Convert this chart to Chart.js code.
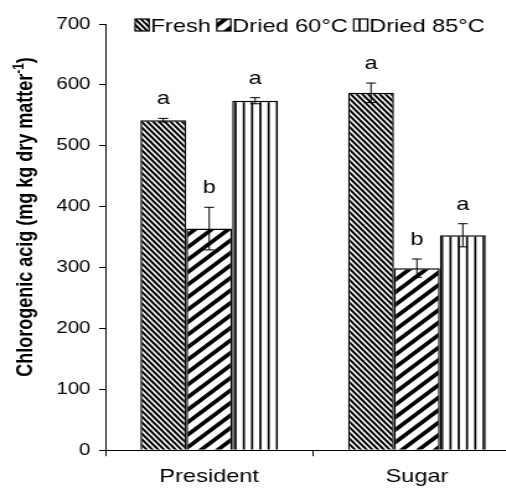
<!DOCTYPE html>
<html><head><meta charset="utf-8">
<script src="https://cdn.jsdelivr.net/npm/chart.js@4.4.1/dist/chart.umd.min.js"></script>
<style>
html,body{margin:0;padding:0;overflow:hidden;background:#fff;width:506px;height:497px;}
#wrap{width:424px;height:497px;transform:scaleX(1.24);transform-origin:0 0;}
canvas{display:block;background:#fff;}
</style></head><body>
<div id="wrap"><canvas id="c" width="424" height="497"></canvas></div>
<script>
const categories = ['President', 'Sugar'];
const seriesNames = ['Fresh', 'Dried 60°C', 'Dried 85°C'];
const freshValues = [542, 587];
const dried60Values = [364, 299];
const dried85Values = [574, 353];
const freshErrors = [3, 16];
const dried60Errors = [35, 15];
const dried85Errors = [5, 19];
const freshLetters = ['a', 'a'];
const dried60Letters = ['b', 'b'];
const dried85Letters = ['a', 'a'];
const yTickValues = [0, 100, 200, 300, 400, 500, 600, 700];
const yTitleMain = 'Chlorogenic acig (mg kg dry matter';
const yTitleSup = '-1';
const yTitleEnd = ')';

const FONT = "'Liberation Sans', Arial, Helvetica, sans-serif";

function diagPattern(W, H, n, dir, duty) {
  const c = document.createElement('canvas'); c.width = W; c.height = H;
  const g = c.getContext('2d');
  g.fillStyle = '#fff'; g.fillRect(0, 0, W, H);
  const px = W / n, py = H / n;
  const perp = 1 / Math.sqrt(1 / (px * px) + 1 / (py * py));
  g.strokeStyle = '#000'; g.lineWidth = duty * perp;
  g.beginPath();
  const s = dir === 'back' ? 1 : -1;
  for (let k = -3 * n; k <= 3 * n; k++) {
    const y0 = -H, y1 = 2 * H;
    g.moveTo((k + s * y0 / py) * px, y0);
    g.lineTo((k + s * y1 / py) * px, y1);
  }
  g.stroke();
  return g.createPattern(c, 'repeat');
}
function vertPattern(W, n, lw) {
  const c = document.createElement('canvas'); c.width = W; c.height = 4;
  const g = c.getContext('2d');
  g.fillStyle = '#fff'; g.fillRect(0, 0, W, 4);
  g.fillStyle = '#000';
  for (let i = 0; i < n; i++) {
    const x = (i + 0.5) * W / n;
    g.fillRect(x - lw / 2, 0, lw, 4);
  }
  return g.createPattern(c, 'repeat');
}

const patterns = [
  diagPattern(14, 17, 3, 'back', 0.55),
  diagPattern(27, 25, 2, 'fwd', 0.4),
  vertPattern(20, 3, 1.7)
];
const valueSets = [freshValues, dried60Values, dried85Values];
const errorSets = [freshErrors, dried60Errors, dried85Errors];
const letterSets = [freshLetters, dried60Letters, dried85Letters];

const errorPlugin = {
  id: 'errorsLetters',
  afterDatasetsDraw(chart) {
    const ctx = chart.ctx, y = chart.scales.y;
    ctx.save();
    chart.data.datasets.forEach((ds, di) => {
      const meta = chart.getDatasetMeta(di);
      meta.data.forEach((bar, i) => {
        const v = valueSets[di][i], e = errorSets[di][i];
        const yTop = y.getPixelForValue(v + e), yBot = y.getPixelForValue(v - e);
        const x = bar.x;
        ctx.strokeStyle = '#000'; ctx.lineWidth = 1;
        ctx.beginPath();
        ctx.moveTo(x, yTop); ctx.lineTo(x, yBot);
        ctx.moveTo(x - 4, yTop); ctx.lineTo(x + 4, yTop);
        ctx.moveTo(x - 4, yBot); ctx.lineTo(x + 4, yBot);
        ctx.stroke();
        ctx.fillStyle = '#000';
        ctx.font = '19px ' + FONT;
        ctx.textAlign = 'center'; ctx.textBaseline = 'alphabetic';
        ctx.fillText(letterSets[di][i], x, yTop - 14);
      });
    });
    ctx.restore();
  }
};

const legendPlugin = {
  id: 'customLegend',
  afterDraw(chart) {
    const ctx = chart.ctx;
    ctx.save();
    ctx.font = '19px ' + FONT;
    let x = chart.chartArea.left + 24;
    const boxW = 11.3, boxH = 12, top = 19, baseline = 31.5;
    chart.data.datasets.forEach((ds) => {
      ctx.fillStyle = ds.backgroundColor;
      ctx.fillRect(x, top, boxW, boxH);
      ctx.strokeStyle = '#000'; ctx.lineWidth = 1.2;
      ctx.strokeRect(x, top, boxW, boxH);
      x += boxW + 1.2;
      ctx.fillStyle = '#000';
      ctx.textAlign = 'left'; ctx.textBaseline = 'alphabetic';
      ctx.fillText(ds.label, x, baseline);
      x += ctx.measureText(ds.label).width + 4.8;
    });
    ctx.restore();
  }
};

const yTitlePlugin = {
  id: 'yTitle',
  afterDraw(chart) {
    const ctx = chart.ctx;
    ctx.save();
    const mainFont = 'bold 18px ' + FONT, supFont = 'bold 12px ' + FONT;
    ctx.font = mainFont; const w1 = ctx.measureText(yTitleMain).width;
    const w3 = ctx.measureText(yTitleEnd).width;
    ctx.font = supFont; const w2 = ctx.measureText(yTitleSup).width;
    const total = w1 + w2 + w3;
    ctx.translate(25.6, 217);
    ctx.rotate(-Math.PI / 2);
    ctx.fillStyle = '#000'; ctx.textAlign = 'left'; ctx.textBaseline = 'alphabetic';
    let x = -total / 2;
    ctx.font = mainFont; ctx.fillText(yTitleMain, x, 0); x += w1;
    ctx.font = supFont; ctx.fillText(yTitleSup, x, -7); x += w2;
    ctx.font = mainFont; ctx.fillText(yTitleEnd, x, 0);
    ctx.restore();
  }
};

new Chart(document.getElementById('c'), {
  type: 'bar',
  data: {
    labels: categories,
    datasets: seriesNames.map((name, i) => ({
      label: name,
      data: valueSets[i],
      backgroundColor: patterns[i],
      borderColor: '#000',
      borderWidth: 1.5,
      barPercentage: 1,
      categoryPercentage: 0.663
    }))
  },
  options: {
    responsive: false,
    devicePixelRatio: 1,
    animation: false,
    layout: { padding: { top: 24, right: 4, bottom: 0, left: 0 } },
    plugins: { legend: { display: false }, tooltip: { enabled: false } },
    scales: {
      x: {
        offset: true,
        grid: { display: true, drawOnChartArea: false, offset: true, tickLength: 6, color: '#000', lineWidth: 1 },
        border: { display: true, color: '#000', width: 1 },
        ticks: { font: { family: FONT, size: 19 }, color: '#000', padding: 9 }
      },
      y: {
        min: 0, max: 700,
        afterBuildTicks(scale) { scale.ticks = yTickValues.map(v => ({ value: v })); },
        afterFit(scale) { scale.width = 85; },
        ticks: { font: { family: FONT, size: 16.5 }, color: '#000', padding: 7 },
        grid: { display: true, drawOnChartArea: false, tickLength: 5, color: '#000', lineWidth: 1 },
        border: { display: true, color: '#000', width: 1 }
      }
    }
  },
  plugins: [errorPlugin, legendPlugin, yTitlePlugin]
});
</script>
</body></html>
